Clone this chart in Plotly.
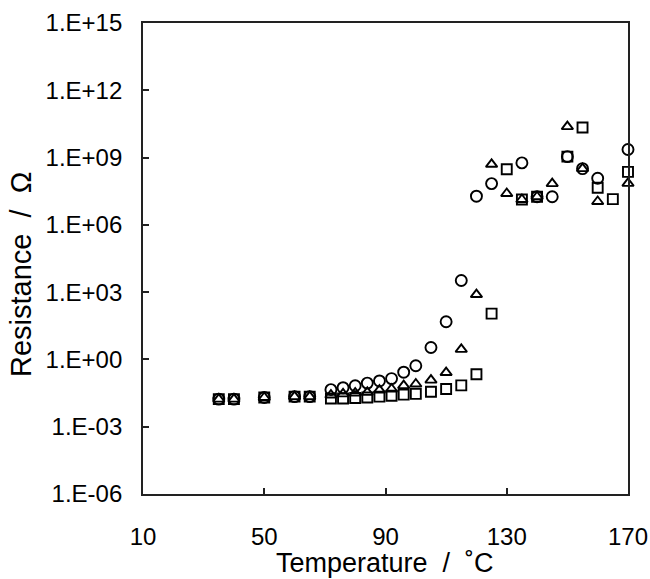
import plotly.graph_objects as go

# Temperatures (°C) and resistance (Ω) for the three series
temp_circle = [35, 40, 50, 60, 65, 72, 76, 80, 84, 88, 92, 96, 100, 105, 110, 115,
               120, 125, 135, 140, 145, 150, 155, 160, 170]
res_circle = [0.017, 0.017, 0.02, 0.022, 0.022, 0.045, 0.055, 0.067, 0.088, 0.11,
              0.14, 0.27, 0.52, 3.4, 48, 3300,
              1.9e7, 6.9e7, 5.8e8, 1.8e7, 1.8e7, 1.1e9, 3.2e8, 1.2e8, 2.3e9]

temp_triangle = [35, 40, 50, 60, 65, 72, 76, 80, 84, 88, 92, 96, 100, 105, 110, 115,
                 120, 125, 130, 135, 140, 145, 150, 155, 160, 170]
res_triangle = [0.017, 0.017, 0.02, 0.022, 0.022, 0.026, 0.029, 0.032, 0.034, 0.043,
                0.048, 0.068, 0.08, 0.12, 0.26, 2.8,
                780, 5.0e8, 2.5e7, 1.35e7, 1.8e7, 6.9e7, 2.4e10, 3.2e8, 1.1e7, 7.1e7]

temp_square = [35, 40, 50, 60, 65, 72, 76, 80, 84, 88, 92, 96, 100, 105, 110, 115,
               120, 125, 130, 135, 140, 150, 155, 160, 165, 170]
res_square = [0.017, 0.017, 0.02, 0.022, 0.022, 0.018, 0.018, 0.019, 0.02, 0.022,
              0.024, 0.027, 0.029, 0.036, 0.048, 0.07,
              0.22, 110, 3.0e8, 1.35e7, 1.8e7, 1.1e9, 2.2e10, 4.5e7, 1.4e7, 2.3e8]

x_ticks = [10, 50, 90, 130, 170]
y_tickvals = [1e-6, 1e-3, 1e0, 1e3, 1e6, 1e9, 1e12, 1e15]
y_ticktext = ["1.E-06", "1.E-03", "1.E+00", "1.E+03", "1.E+06", "1.E+09", "1.E+12", "1.E+15"]

FONT = "Liberation Sans, Arial, sans-serif"
PLOT_H = 579 - 85 - 23
PLOT_W = 650 - 143 - 22

fig = go.Figure()
for xs, ys, sym, sz in [
    (temp_circle, res_circle, "circle-open", 11),
    (temp_triangle, res_triangle, "triangle-up-open", 10),
    (temp_square, res_square, "square-open", 10),
]:
    fig.add_trace(go.Scatter(
        x=xs, y=ys, mode="markers", cliponaxis=False,
        marker=dict(symbol=sym, size=sz, color="black", line=dict(width=1.9, color="black")),
        showlegend=False,
    ))

fig.update_layout(
    width=650, height=579,
    margin=dict(l=143, r=22, t=23, b=85, autoexpand=False),
    paper_bgcolor="white", plot_bgcolor="white",
    font=dict(family=FONT, size=24, color="black"),
    xaxis=dict(
        range=[10, 170], tickvals=x_ticks, ticks="inside", ticklen=6, tickwidth=1.5,
        tickcolor="#222", showline=True, linecolor="#222", linewidth=1.8, mirror=True,
        showgrid=False, zeroline=False, ticklabelstandoff=20, automargin=False,
        tickfont=dict(size=24, family=FONT),
    ),
    yaxis=dict(
        type="log", range=[-6, 15], tickvals=y_tickvals, ticktext=y_ticktext,
        ticks="inside", ticklen=6, tickwidth=1.5, tickcolor="#222",
        showline=True, linecolor="#222", linewidth=1.8, mirror=True,
        showgrid=False, zeroline=False, ticklabelstandoff=14, automargin=False,
        tickfont=dict(size=24, family=FONT),
    ),
    annotations=[
        dict(
            text="Resistance  /  Ω", textangle=-90, xref="paper", yref="paper",
            x=(21 - 143) / PLOT_W, y=(579 - 85 - 275) / PLOT_H,
            xanchor="center", yanchor="middle",
            showarrow=False, font=dict(size=29, family=FONT),
        ),
        dict(
            text="Temperature  /  ˚C", xref="paper", yref="paper",
            x=(385 - 143) / PLOT_W, y=(579 - 85 - 563) / PLOT_H,
            xanchor="center", yanchor="middle",
            showarrow=False, font=dict(size=27, family=FONT),
        ),
    ],
)

fig.write_html("out.html")
